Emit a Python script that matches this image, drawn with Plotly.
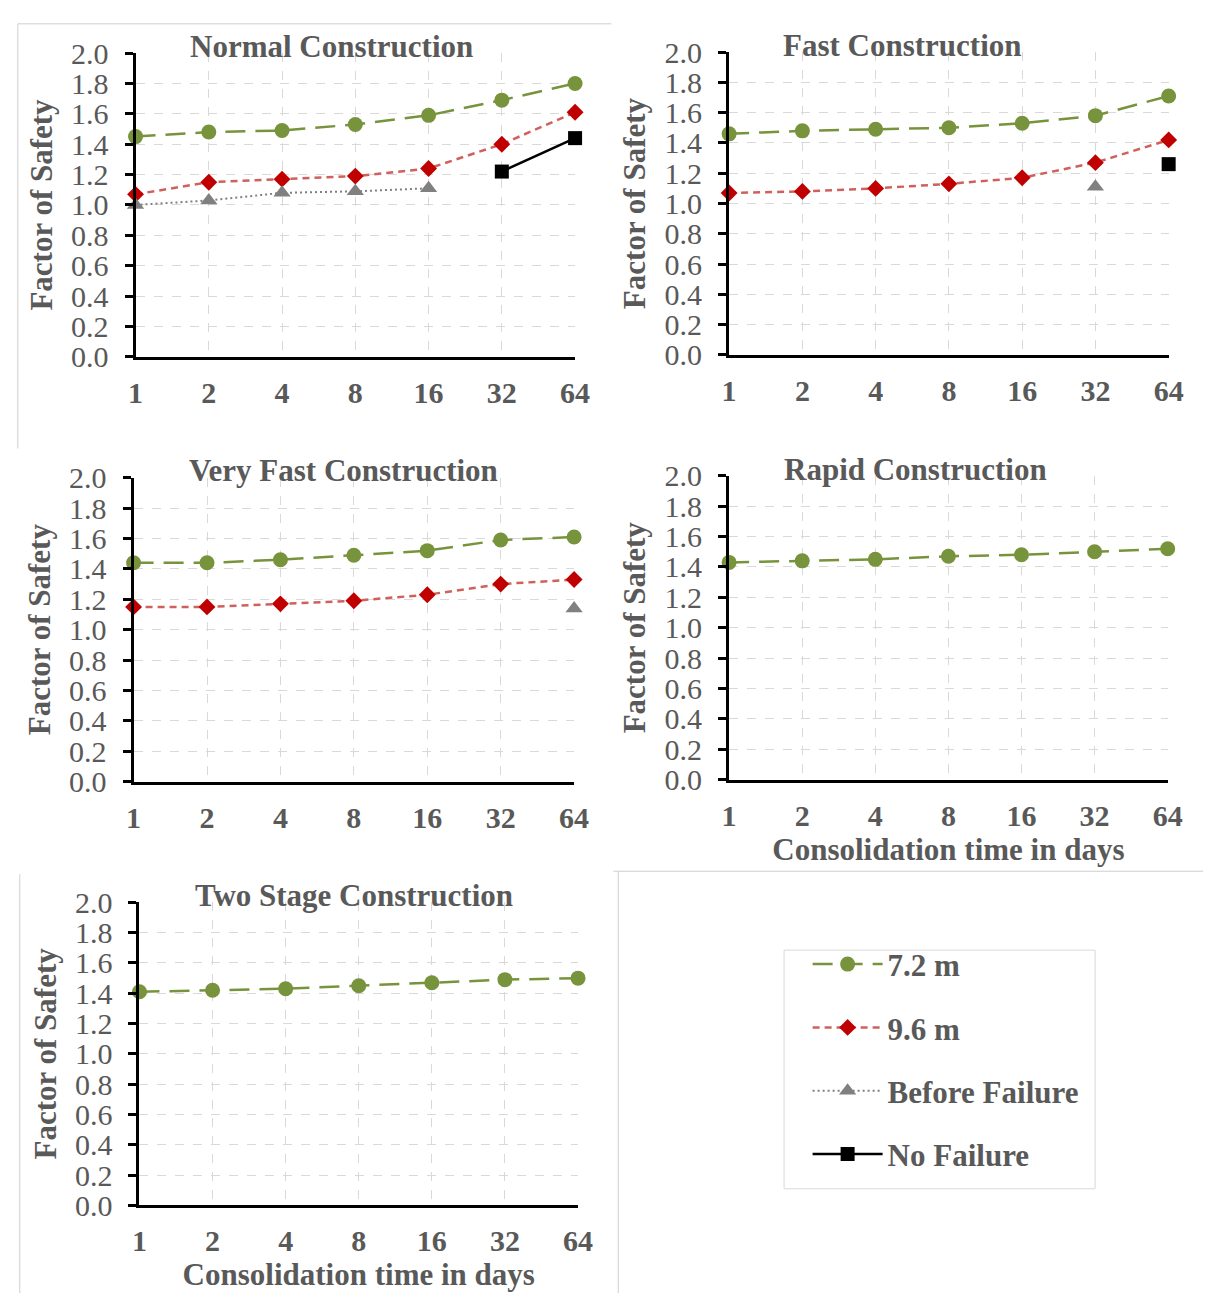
import plotly.graph_objects as go

# ---------------- data ----------------
days = ["1", "2", "4", "8", "16", "32", "64"]
y_ticks = [0.0, 0.2, 0.4, 0.6, 0.8, 1.0, 1.2, 1.4, 1.6, 1.8, 2.0]

normal_72 = [1.45, 1.48, 1.49, 1.53, 1.59, 1.69, 1.80]
normal_96 = [1.07, 1.15, 1.17, 1.19, 1.24, 1.40, 1.61]
normal_before_days = ["1", "2", "4", "8", "16"]
normal_before = [1.00, 1.03, 1.08, 1.09, 1.11]
normal_nofail_days = ["32", "64"]
normal_nofail = [1.22, 1.44]

fast_72 = [1.46, 1.48, 1.49, 1.50, 1.53, 1.58, 1.71]
fast_96 = [1.07, 1.08, 1.10, 1.13, 1.17, 1.27, 1.42]
fast_before_days = ["32"]
fast_before = [1.11]
fast_nofail_days = ["64"]
fast_nofail = [1.26]

vfast_72 = [1.44, 1.44, 1.46, 1.49, 1.52, 1.59, 1.61]
vfast_96 = [1.15, 1.15, 1.17, 1.19, 1.23, 1.30, 1.33]
vfast_before_days = ["64"]
vfast_before = [1.14]

rapid_72 = [1.43, 1.44, 1.45, 1.47, 1.48, 1.50, 1.52]
twostage_72 = [1.41, 1.42, 1.43, 1.45, 1.47, 1.49, 1.50]

panel_titles = ["Normal Construction", "Fast Construction", "Very Fast Construction",
                "Rapid Construction", "Two Stage Construction"]
series_names = ["7.2 m", "9.6 m", "Before Failure", "No Failure"]

# ---------------- styling ----------------
W, H = 1218, 1310
FONT = "Liberation Serif, Times New Roman, serif"
TXT = "#595959"
GREEN = "#77933C"
RED_LINE = "#D0605C"
RED_MK = "#C00000"
GREY = "#808080"

# plot-area boxes in pixels: (left, right, top, bottom)
boxes = [(130, 578, 37, 349), (735, 1183, 36, 347), (128, 577, 473, 785),
         (735, 1182, 471, 783), (134, 581, 909, 1220)]
title_pos = [(330, 30), (912, 29), (342, 466), (925, 465), (353, 902)]

styles = {
    "7.2 m": dict(line=dict(color=GREEN, width=2.5, dash="20px,10px"),
                  marker=dict(symbol="circle", size=15, color=GREEN)),
    "9.6 m": dict(line=dict(color=RED_LINE, width=2.5, dash="7px,5px"),
                  marker=dict(symbol="diamond", size=13, color=RED_MK)),
    "Before Failure": dict(line=dict(color=GREY, width=2, dash="2px,3px"),
                           marker=dict(symbol="triangle-up", size=15, color=GREY)),
    "No Failure": dict(line=dict(color="black", width=2.5),
                       marker=dict(symbol="square", size=14, color="black")),
}

panels = [
    [("7.2 m", days, normal_72), ("9.6 m", days, normal_96),
     ("Before Failure", normal_before_days, normal_before),
     ("No Failure", normal_nofail_days, normal_nofail)],
    [("7.2 m", days, fast_72), ("9.6 m", days, fast_96),
     ("Before Failure", fast_before_days, fast_before),
     ("No Failure", fast_nofail_days, fast_nofail)],
    [("7.2 m", days, vfast_72), ("9.6 m", days, vfast_96),
     ("Before Failure", vfast_before_days, vfast_before)],
    [("7.2 m", days, rapid_72)],
    [("7.2 m", days, twostage_72)],
]

fig = go.Figure()
layout = {}
annotations = []

for i, (traces, box) in enumerate(zip(panels, boxes)):
    n = i + 1
    xa = "x" if n == 1 else f"x{n}"
    ya = "y" if n == 1 else f"y{n}"
    for name, xs, ys in traces:
        fig.add_trace(go.Scatter(
            x=xs, y=ys, name=name, mode="lines+markers",
            xaxis=xa, yaxis=ya, cliponaxis=False,
            legendgroup=name, showlegend=(n == 1),
            **styles[name]))
    l, r, t, b = box
    show_xtitle = n in (4, 5)
    layout["xaxis" if n == 1 else f"xaxis{n}"] = dict(
        domain=[l / W, r / W], anchor=ya, type="category",
        categoryorder="array", categoryarray=days, range=[0, 6],
        showline=True, linecolor="black", linewidth=3,
        showgrid=True, gridcolor="#D9D9D9", gridwidth=1, griddash="dash",
        ticks="", ticklabelstandoff=7,
        tickfont=dict(family=FONT, size=30, color=TXT, weight="bold"),
        title=dict(text="Consolidation time in days" if show_xtitle else "",
                   font=dict(family=FONT, size=31, color=TXT, weight="bold"),
                   standoff=2),
        zeroline=False, fixedrange=True,
    )
    layout["yaxis" if n == 1 else f"yaxis{n}"] = dict(
        domain=[1 - b / H, 1 - t / H], anchor=xa, range=[0, 2.0],
        tickvals=y_ticks, tickformat=".1f",
        showline=True, linecolor="black", linewidth=3,
        ticks="outside", ticklen=8, tickwidth=3, tickcolor="black",
        ticklabelstandoff=10,
        showgrid=True, gridcolor="#D9D9D9", gridwidth=1, griddash="dash",
        tickfont=dict(family=FONT, size=30, color=TXT),
        title=dict(text="Factor of Safety",
                   font=dict(family=FONT, size=31, color=TXT, weight="bold"),
                   standoff=10),
        zeroline=False, fixedrange=True,
    )
    tx, ty = title_pos[i]
    annotations.append(dict(
        text=panel_titles[i], x=tx / W, y=1 - ty / H, xref="paper", yref="paper",
        xanchor="center", yanchor="middle", showarrow=False,
        font=dict(family=FONT, size=31, color=TXT, weight="bold")))

# thin grey frame lines of the original picture + legend box
frame = "#CFCFCF"
shapes = [
    dict(type="line", xref="paper", yref="paper", x0=10 / W, x1=615 / W,
         y0=1 - 7 / H, y1=1 - 7 / H, line=dict(color=frame, width=1)),
    dict(type="line", xref="paper", yref="paper", x0=10 / W, x1=10 / W,
         y0=1 - 7 / H, y1=1 - 443 / H, line=dict(color=frame, width=1)),
    dict(type="line", xref="paper", yref="paper", x0=617 / W, x1=1218 / W,
         y0=1 - 877 / H, y1=1 - 877 / H, line=dict(color=frame, width=1)),
    dict(type="line", xref="paper", yref="paper", x0=622 / W, x1=622 / W,
         y0=1 - 877 / H, y1=0, line=dict(color=frame, width=1)),
    dict(type="line", xref="paper", yref="paper", x0=12 / W, x1=12 / W,
         y0=1 - 880 / H, y1=0, line=dict(color=frame, width=1)),
    dict(type="rect", xref="paper", yref="paper", x0=791 / W, x1=1108 / W,
         y0=1 - 958 / H, y1=1 - 1203 / H, line=dict(color="#D9D9D9", width=1)),
]

fig.update_layout(
    **layout,
    width=W, height=H, autosize=False,
    margin=dict(l=0, r=0, t=0, b=0),
    paper_bgcolor="white", plot_bgcolor="white",
    font=dict(family=FONT, color=TXT),
    annotations=annotations, shapes=shapes,
    showlegend=True,
    legend=dict(x=815 / W, y=1 - 945 / H, xanchor="left", yanchor="top",
                borderwidth=0, bgcolor="rgba(0,0,0,0)",
                font=dict(family=FONT, size=31, color=TXT, weight="bold"),
                tracegroupgap=20, itemwidth=70,
                traceorder="grouped"),
)

fig.write_html("out.html")
